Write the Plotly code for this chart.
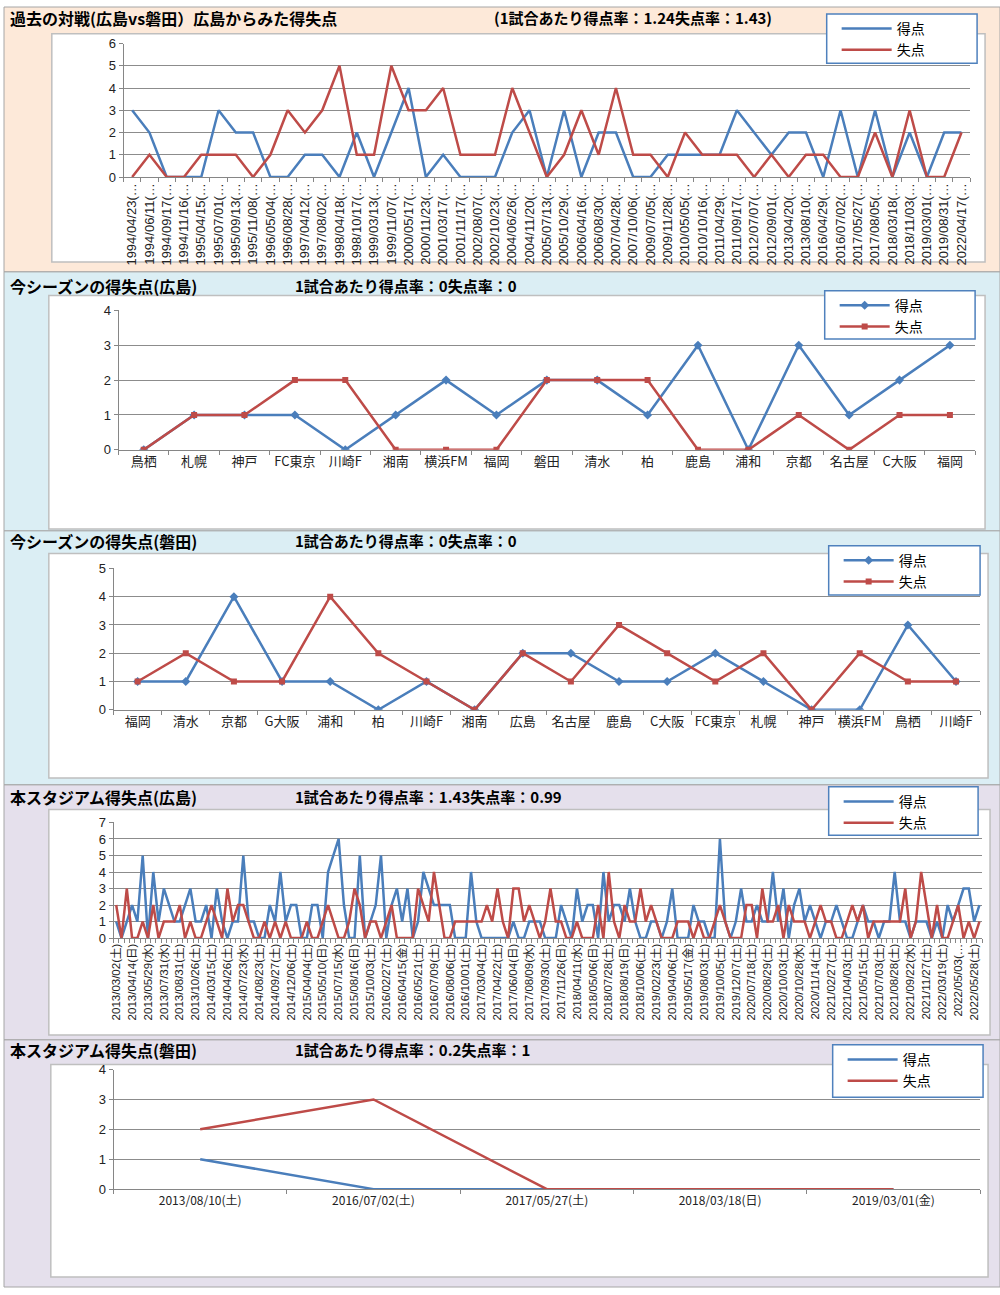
import plotly.graph_objects as go

W, H = 1000, 1295
FONT = "Noto Sans CJK JP"
LATIN = "Liberation Sans, Noto Sans CJK JP"
BLUE = "#4A7EBB"
RED = "#BE4B48"
GRID = "#8C8C8C"
AXIS = "#868686"

# ---------------- data ----------------
# Panel 1: past matches (Hiroshima vs Iwata)
p1_dates = ["1994/04/23", "1994/06/11", "1994/09/17", "1994/11/16", "1995/04/15", "1995/07/01",
            "1995/09/13", "1995/11/08", "1996/05/04", "1996/08/28", "1997/04/12", "1997/08/02",
            "1998/04/18", "1998/10/17", "1999/03/13", "1999/11/07", "2000/05/17", "2000/11/23",
            "2001/03/17", "2001/11/17", "2002/08/07", "2002/10/23", "2004/06/26", "2004/11/20",
            "2005/07/13", "2005/10/29", "2006/04/16", "2006/08/30", "2007/04/28", "2007/10/06",
            "2009/07/05", "2009/11/28", "2010/05/05", "2010/10/16", "2011/04/29", "2011/09/17",
            "2012/07/07", "2012/09/01", "2013/04/20", "2013/08/10", "2016/04/29", "2016/07/02",
            "2017/05/27", "2017/08/05", "2018/03/18", "2018/11/03", "2019/03/01", "2019/08/31",
            "2022/04/17"]
p1_labels = [d + "(…" for d in p1_dates]
p1_for = [3, 2, 0, 0, 0, 3, 2, 2, 0, 0, 1, 1, 0, 2, 0, 2, 4, 0, 1, 0, 0, 0,
          2, 3, 0, 3, 0, 2, 2, 0, 0, 1, 1, 1, 1, 3, 2, 1, 2, 2, 0, 3, 0, 3, 0, 2, 0, 2, 2]
p1_against = [0, 1, 0, 0, 1, 1, 1, 0, 1, 3, 2, 3, 5, 1, 1, 5, 3, 3, 4, 1, 1, 1,
              4, 2, 0, 1, 3, 1, 4, 1, 1, 0, 2, 1, 1, 1, 0, 1, 0, 1, 1, 0, 0, 2, 0, 3, 0, 0, 2]

# Panel 2: this season (Hiroshima)
p2_teams = ["鳥栖", "札幌", "神戸", "FC東京", "川崎F", "湘南", "横浜FM", "福岡", "磐田",
            "清水", "柏", "鹿島", "浦和", "京都", "名古屋", "C大阪", "福岡"]
p2_for = [0, 1, 1, 1, 0, 1, 2, 1, 2, 2, 1, 3, 0, 3, 1, 2, 3]
p2_against = [0, 1, 1, 2, 2, 0, 0, 0, 2, 2, 2, 0, 0, 1, 0, 1, 1]

# Panel 3: this season (Iwata)
p3_teams = ["福岡", "清水", "京都", "G大阪", "浦和", "柏", "川崎F", "湘南", "広島",
            "名古屋", "鹿島", "C大阪", "FC東京", "札幌", "神戸", "横浜FM", "鳥栖", "川崎F"]
p3_for = [1, 1, 4, 1, 1, 0, 1, 0, 2, 2, 1, 1, 2, 1, 0, 0, 3, 1]
p3_against = [1, 2, 1, 1, 4, 2, 1, 0, 2, 1, 3, 2, 1, 2, 0, 2, 1, 1]

# Panel 4: this stadium (Hiroshima) - every third match is labelled
p4_labels = ["2013/03/02(土)", "2013/04/14(日)", "2013/05/29(水)", "2013/07/31(水)", "2013/08/31(土)",
             "2013/10/26(土)", "2014/03/15(土)", "2014/04/26(土)", "2014/07/23(水)", "2014/08/23(土)",
             "2014/09/27(土)", "2014/12/06(土)", "2015/04/04(土)", "2015/05/10(日)", "2015/07/15(水)",
             "2015/08/16(日)", "2015/10/03(土)", "2016/02/27(土)", "2016/04/15(金)", "2016/05/21(土)",
             "2016/07/09(土)", "2016/08/06(土)", "2016/10/01(土)", "2017/03/04(土)", "2017/04/22(土)",
             "2017/06/04(日)", "2017/08/09(水)", "2017/09/30(土)", "2017/11/26(日)", "2018/04/11(水)",
             "2018/05/06(日)", "2018/07/28(土)", "2018/08/19(日)", "2018/10/06(土)", "2019/02/23(土)",
             "2019/04/06(土)", "2019/05/17(金)", "2019/08/03(土)", "2019/10/05(土)", "2019/12/07(土)",
             "2020/07/18(土)", "2020/08/29(土)", "2020/10/03(土)", "2020/10/28(水)", "2020/11/14(土)",
             "2021/02/27(土)", "2021/04/03(土)", "2021/05/15(土)", "2021/07/03(土)", "2021/08/28(土)",
             "2021/09/22(水)", "2021/11/27(土)", "2022/03/19(土)", "2022/05/03(…", "2022/05/28(土)"]
p4_for = [1, 0, 1, 2, 1, 5, 0, 4, 1, 3,
          2, 1, 1, 2, 3, 1, 1, 2, 0, 3,
          1, 0, 1, 1, 5, 1, 1, 0, 0, 2,
          1, 4, 1, 2, 2, 0, 0, 2, 2, 0,
          4, 5, 6, 2, 0, 0, 5, 0, 1, 2,
          5, 0, 2, 3, 1, 3, 0, 1, 4, 3,
          2, 2, 2, 2, 0, 0, 0, 4, 1, 0,
          0, 0, 0, 0, 0, 1, 0, 0, 1, 1,
          1, 0, 0, 0, 2, 1, 0, 3, 1, 2,
          2, 0, 4, 1, 2, 2, 1, 3, 1, 0,
          0, 1, 1, 0, 1, 3, 0, 0, 0, 2,
          1, 1, 0, 0, 6, 1, 0, 1, 3, 1,
          1, 2, 1, 1, 4, 1, 3, 0, 2, 3,
          1, 2, 1, 0, 1, 1, 2, 1, 0, 0,
          1, 2, 1, 1, 0, 1, 1, 4, 1, 1,
          0, 1, 1, 1, 0, 1, 0, 2, 1, 2,
          3, 3, 1, 2]
p4_against = [2, 0, 3, 0, 0, 1, 0, 2, 0, 1,
              1, 1, 2, 0, 1, 0, 0, 1, 2, 1,
              0, 3, 1, 2, 2, 1, 0, 0, 1, 0,
              1, 0, 1, 0, 0, 0, 1, 0, 0, 1,
              2, 1, 0, 0, 1, 3, 2, 0, 1, 1,
              0, 1, 2, 0, 0, 0, 0, 3, 2, 1,
              4, 2, 0, 0, 1, 1, 1, 1, 1, 1,
              2, 1, 3, 1, 0, 3, 3, 1, 2, 1,
              0, 1, 3, 1, 1, 0, 0, 1, 0, 0,
              0, 2, 0, 4, 1, 0, 2, 1, 1, 3,
              1, 2, 1, 0, 0, 0, 1, 1, 1, 0,
              1, 0, 0, 1, 2, 1, 0, 0, 0, 2,
              2, 0, 3, 1, 1, 2, 0, 2, 1, 1,
              1, 0, 1, 2, 1, 1, 0, 0, 1, 2,
              1, 2, 0, 1, 1, 1, 1, 1, 1, 3,
              0, 1, 4, 2, 0, 2, 0, 0, 1, 2,
              0, 1, 0, 1]

# Panel 5: this stadium (Iwata)
p5_labels = ["2013/08/10(土)", "2016/07/02(土)", "2017/05/27(土)", "2018/03/18(日)", "2019/03/01(金)"]
p5_for = [1, 0, 0, 0, 0]
p5_against = [2, 3, 0, 0, 0]

titles = [
    ("過去の対戦(広島vs磐田）広島からみた得失点", "(1試合あたり得点率：1.24失点率：1.43)", 490),
    ("今シーズンの得失点(広島)", "1試合あたり得点率：0失点率：0", 290),
    ("今シーズンの得失点(磐田)", "1試合あたり得点率：0失点率：0", 290),
    ("本スタジアム得失点(広島)", "1試合あたり得点率：1.43失点率：0.99", 290),
    ("本スタジアム得失点(磐田)", "1試合あたり得点率：0.2失点率：1", 290),
]


def px(x):
    return x / W


def py(y):
    return 1 - y / H


fig = go.Figure()

# panel geometry (pixels): band, chart area, plot area, legend box, title y
panels = [
    dict(band=(0, 268), bg="#FDE9D9", chart=(48, 27, 985, 258), plot=(120, 37, 970, 172),
         legend=(826, 7, 977, 57), ty=11, ymax=6),
    dict(band=(268, 530), bg="#DBEEF4", chart=(45, 292, 985, 528), plot=(115, 307, 975, 448),
         legend=(824, 287, 975, 336), ty=282, ymax=4),
    dict(band=(530, 787), bg="#DBEEF4", chart=(45, 553, 988, 780), plot=(110, 568, 980, 711),
         legend=(828, 545, 980, 595), ty=540, ymax=5),
    dict(band=(787, 1045), bg="#E5E0EC", chart=(45, 812, 990, 1040), plot=(110, 825, 982, 942),
         legend=(828, 789, 978, 838), ty=799, ymax=7),
    dict(band=(1045, 1295), bg="#E5E0EC", chart=(47, 1070, 988, 1285), plot=(110, 1075, 980, 1196),
         legend=(832, 1050, 983, 1103), ty=1055, ymax=4),
]

series = [
    (p1_for, p1_against, None),
    (p2_for, p2_against, "markers"),
    (p3_for, p3_against, "markers"),
    (p4_for, p4_against, None),
    (p5_for, p5_against, None),
]

shapes = []
annotations = []
layout_axes = {}

for k, (pan, (sf, sa, mk), (t1, t2, t2x)) in enumerate(zip(panels, series, titles)):
    n = len(sf)
    idx = list(range(n))
    sfx = "" if k == 0 else str(k + 1)
    xa, ya = "x" + sfx, "y" + sfx
    lg = "legend" + sfx
    marker_f = dict(symbol="diamond", size=7, color=BLUE) if mk else None
    marker_a = dict(symbol="square", size=6, color=RED) if mk else None
    mode = "lines+markers" if mk else "lines"
    fig.add_trace(go.Scatter(x=idx, y=sf, mode=mode, name="得点", line=dict(color=BLUE, width=2.5),
                             marker=marker_f, xaxis=xa, yaxis=ya, legend=lg))
    fig.add_trace(go.Scatter(x=idx, y=sa, mode=mode, name="失点", line=dict(color=RED, width=2.5),
                             marker=marker_a, xaxis=xa, yaxis=ya, legend=lg))

    # backgrounds
    b0, b1 = pan["band"]
    shapes.append(dict(type="rect", xref="paper", yref="paper", x0=0, x1=1, y0=py(b1), y1=py(b0),
                       fillcolor=pan["bg"], line=dict(color="#A6A6A6", width=1), layer="below"))
    cx0, cy0, cx1, cy1 = pan["chart"]
    shapes.append(dict(type="rect", xref="paper", yref="paper", x0=px(cx0), x1=px(cx1), y0=py(cy1),
                       y1=py(cy0), fillcolor="white", line=dict(color="#BFBFBF", width=1.5), layer="below"))
    lx0, ly0, lx1, ly1 = pan["legend"]
    shapes.append(dict(type="rect", xref="paper", yref="paper", x0=px(lx0), x1=px(lx1), y0=py(ly1),
                       y1=py(ly0), fillcolor="white", line=dict(color="#4F81BD", width=1.5), layer="above"))

    # titles
    annotations.append(dict(text="<b>" + t1 + "</b>", x=px(4), y=py(pan["ty"]), xref="paper", yref="paper",
                            xanchor="left", yanchor="middle", showarrow=False,
                            font=dict(family=FONT, size=16, color="black")))
    annotations.append(dict(text="<b>" + t2 + "</b>", x=px(t2x), y=py(pan["ty"]), xref="paper", yref="paper",
                            xanchor="left", yanchor="middle", showarrow=False,
                            font=dict(family=FONT, size=15, color="black")))

    pxl0, pyt, pxl1, pyb = pan["plot"]
    if k == 0:
        tickvals, ticktext, angle, tfont = idx, p1_labels, -90, dict(family=LATIN, size=13)
    elif k == 1:
        tickvals, ticktext, angle, tfont = idx, p2_teams, 0, dict(family=FONT, size=13)
    elif k == 2:
        tickvals, ticktext, angle, tfont = idx, p3_teams, 0, dict(family=FONT, size=13)
    elif k == 3:
        tickvals, ticktext, angle, tfont = idx[::3], p4_labels, -90, dict(family=LATIN, size=11.5)
    else:
        tickvals, ticktext, angle, tfont = idx, p5_labels, 0, dict(family=FONT, size=12)
    tfont["color"] = "#222"

    layout_axes["xaxis" + sfx] = dict(
        domain=[px(pxl0), px(pxl1)], anchor=ya, range=[-0.5, n - 0.5],
        tickmode="array", tickvals=tickvals, ticktext=ticktext, tickangle=angle,
        tickfont=tfont,
        showgrid=False, zeroline=False, showline=True, linecolor=AXIS, linewidth=1,
        ticks="", minor=dict(ticks="outside", ticklen=4, tickcolor=AXIS, tick0=-0.5, dtick=1,
                             showgrid=False),
        fixedrange=True,
    )
    layout_axes["yaxis" + sfx] = dict(
        domain=[py(pyb), py(pyt)], anchor=xa, range=[0, pan["ymax"]], dtick=1,
        showgrid=True, gridcolor=GRID, gridwidth=1, zeroline=False,
        showline=True, linecolor=AXIS, linewidth=1, ticks="outside", ticklen=4, tickcolor=AXIS,
        tickfont=dict(family=LATIN, size=13, color="#222"), fixedrange=True,
    )
    layout_axes[lg] = dict(
        x=px(lx0 + 10), y=py(ly0 - 1), xanchor="left", yanchor="top",
        bgcolor="rgba(0,0,0,0)", borderwidth=0, itemwidth=50, tracegroupgap=0,
        font=dict(family=FONT, size=14, color="black"),
    )

fig.update_layout(
    width=W, height=H, margin=dict(l=0, r=0, t=0, b=0),
    paper_bgcolor="white", plot_bgcolor="white",
    shapes=shapes, annotations=annotations, showlegend=True,
    **layout_axes,
)

fig.write_html(
    "out.html",
    config={"displayModeBar": False, "staticPlot": True},
    post_script=(
        "document.documentElement.style.margin='0';"
        "document.body.style.margin='0';"
        "document.body.style.overflow='hidden';"
        "var g=document.querySelector('.plotly-graph-div');"
        "g.style.position='fixed';g.style.left='0px';g.style.top='0px';"
    ),
)
